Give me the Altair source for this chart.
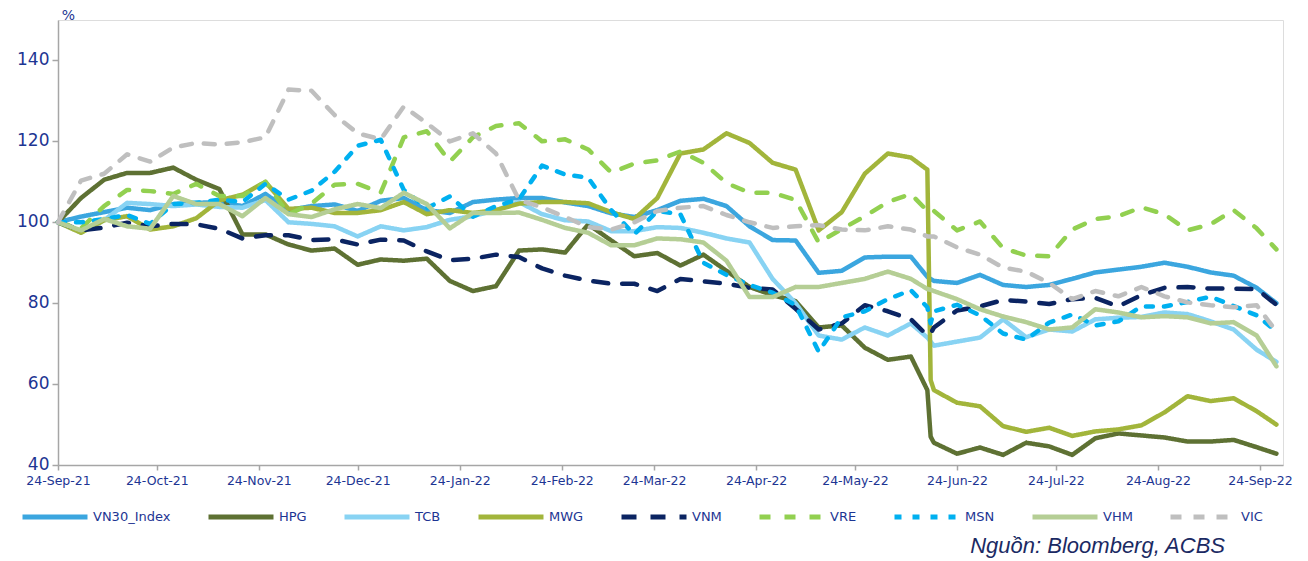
import altair as alt
import pandas as pd

dates = [
    "2021-09-24", "2021-10-01", "2021-10-08", "2021-10-15", "2021-10-22", "2021-10-29",
    "2021-11-05", "2021-11-12", "2021-11-19", "2021-11-26", "2021-12-03", "2021-12-10",
    "2021-12-17", "2021-12-24", "2021-12-31", "2022-01-07", "2022-01-14", "2022-01-21",
    "2022-01-28", "2022-02-04", "2022-02-11", "2022-02-18", "2022-02-25", "2022-03-04",
    "2022-03-11", "2022-03-18", "2022-03-25", "2022-04-01", "2022-04-08", "2022-04-15",
    "2022-04-22", "2022-04-29", "2022-05-06", "2022-05-13", "2022-05-20", "2022-05-27",
    "2022-06-03", "2022-06-10", "2022-06-15", "2022-06-16", "2022-06-17", "2022-06-24",
    "2022-07-01", "2022-07-08", "2022-07-15", "2022-07-22", "2022-07-29", "2022-08-05",
    "2022-08-12", "2022-08-19", "2022-08-26", "2022-09-02", "2022-09-09", "2022-09-16",
    "2022-09-23", "2022-09-29",
]

VN30_Index = [100, 101.4, 102.5, 103.6, 103, 104.5, 104.8, 105, 104, 107, 103, 104, 104.4, 102.8,
              105.3, 106, 103, 102.3, 105, 105.6, 106, 106, 104.9, 104, 102.2, 101.3, 103, 105.3,
              105.8, 104, 99, 95.6, 95.5, 87.5, 88, 91.3, 91.5, 91.5,
              86.5, 86, 85.5, 85, 87, 84.5, 84, 84.5, 86, 87.6, 88.3, 89, 90, 89, 87.6, 86.8, 83.8, 80]
HPG = [100, 106, 110.5, 112.2, 112.2, 113.5, 110.5, 108.2, 97, 97, 94.5, 93, 93.5, 89.5, 90.8, 90.5,
       91, 85.5, 83, 84.2, 93, 93.3, 92.5, 99.5, 95.5, 91.6, 92.4, 89.3, 92, 88, 84, 82, 80.5, 74,
       74.5, 69, 66, 66.8,
       58.5, 47, 45.5, 42.8, 44.3, 42.5, 45.5, 44.6, 42.5, 46.6, 47.8, 47.3, 46.8, 45.8, 45.8, 46.2, 44.4, 42.8]
TCB = [100, 97.5, 100.5, 104.8, 104.5, 104, 104.4, 103.8, 103.6, 105.5, 100, 99.6, 99, 96.5, 99, 98,
       98.8, 100.6, 101.5, 103, 105, 102, 100.5, 100.2, 97.8, 97.8, 98.8, 98.6, 97.4, 96, 95, 86, 80,
       72, 71, 74, 72, 75,
       71.5, 70.5, 69.5, 70.5, 71.5, 76, 71.6, 73.5, 73, 76, 76.4, 76.6, 77.7, 77.3, 75.5, 73.5, 68.5, 65.5]
MWG = [100, 97.4, 100.5, 101.5, 98.2, 99, 101, 105.4, 106.8, 110, 103.3, 103.6, 102.3, 102.3, 103,
       105, 102, 103, 102.3, 103, 104.6, 105, 105, 104.7, 102.5, 100.8, 106, 117, 118, 122, 119.6,
       114.7, 113, 98, 102.5, 112, 117, 116,
       113, 61, 58.5, 55.4, 54.5, 49.6, 48.2, 49.2, 47.2, 48.3, 48.8, 49.8, 53, 57, 55.8, 56.5, 53.3, 50]
VNM = [100, 98, 98.7, 99.9, 99, 99.6, 99.5, 98.4, 96, 96.8, 96.8, 95.6, 95.8, 94.5, 95.7, 95.5, 92.8,
       90.6, 91, 92, 91.4, 88.6, 86.8, 85.6, 84.8, 84.8, 83, 86, 85.4, 84.8, 83.8, 83.4, 78.6, 73.5,
       75, 79.5, 78, 76,
       72, 72.5, 74, 78.2, 79.2, 80.8, 80.4, 79.8, 81, 81.3, 79.2, 82, 83.8, 84, 83.6, 83.6, 83.5, 79.6]
VRE = [100, 98.5, 104, 108, 107.7, 107, 109.5, 106.5, 106.5, 110, 102, 104.6, 109.3, 109.5, 107.3,
       121, 122.5, 115, 121, 123.8, 124.5, 120, 120.5, 118, 112.3, 114.5, 115.3, 117.5, 114.7, 109.7,
       107.3, 107.3, 105.5, 95, 98.3, 101.5, 105, 107,
       102.8, 102.3, 102.8, 98, 100.2, 93.6, 91.8, 91.6, 98.2, 100.8, 101.5, 103.7, 102, 98, 99.5, 103, 98.5, 93.3]
MSN = [100, 100, 100.8, 101.8, 99.6, 104.5, 104.8, 105.6, 105, 109.5, 105.6, 107.8, 112.5, 118.9,
       120.4, 108, 103.5, 106.4, 101.4, 104, 105.7, 114, 111.8, 111, 103, 97, 102.8, 102, 90, 87,
       84.5, 82.6, 79.5, 68, 76.5, 78, 81, 83.2,
       79, 75, 78, 79.6, 77, 72.5, 71, 75.2, 77.2, 74.5, 75.5, 79.2, 79.2, 80.3, 81.6, 79.3, 77, 73]
VHM = [100, 98, 100.8, 99, 98.4, 106.5, 104.5, 104.5, 101.5, 106, 102, 101.3, 103.2, 104.5, 103.5,
       107.3, 104.5, 98.5, 102.3, 102.3, 102.4, 100.6, 98.6, 97.4, 94.3, 94.3, 96, 95.8, 95, 90.5,
       81.5, 81.5, 84, 84, 85, 86, 87.8, 86,
       83.5, 83.3, 83, 81, 78.5, 76.7, 75.3, 73.5, 74, 78.5, 77.7, 76.5, 76.8, 76.5, 75, 75.3, 72, 64.4]
VIC = [100, 110.3, 112, 116.8, 115, 118.5, 119.6, 119.2, 119.8, 121, 132.8, 132.5, 126.5, 122, 120.5,
       128.6, 124.5, 120, 122, 117, 105.5, 103.7, 101.3, 98.8, 98.2, 100, 102.8, 103.6, 104, 101.8,
       100, 98.6, 99, 99.3, 98.2, 98, 99, 98.2,
       96.5, 96.5, 96.5, 93.8, 92, 88.8, 87.8, 85, 81, 83, 81.7, 84, 81.7, 80.2, 79.5, 79, 79.5, 73]

series_names = ["VN30_Index", "HPG", "TCB", "MWG", "VNM", "VRE", "MSN", "VHM", "VIC"]
series_values = [VN30_Index, HPG, TCB, MWG, VNM, VRE, MSN, VHM, VIC]
series_colors = ["#3BA6DF", "#5E7133", "#88D3F3", "#A2B53B", "#0B2462", "#92D050", "#00B0F0",
                 "#B5CE95", "#BFBFBF"]
series_dashes = [[1, 0], [1, 0], [1, 0], [1, 0], [15, 14], [11, 14], [7, 11], [1, 0], [11, 12]]

tick_dates = [
    (2021, 9), (2021, 10), (2021, 11), (2021, 12), (2022, 1), (2022, 2), (2022, 3),
    (2022, 4), (2022, 5), (2022, 6), (2022, 7), (2022, 8), (2022, 9),
]
y_ticks = [40, 60, 80, 100, 120, 140]
source_text = "Nguồn: Bloomberg, ACBS"

rows = []
for name, vals in zip(series_names, series_values):
    for d, v in zip(dates, vals):
        rows.append({"date": d, "value": v, "series": name})
df = pd.DataFrame(rows)

TXT = "#1D3593"
FONT = "'DejaVu Sans', sans-serif"

legend = alt.Legend(
    title=None, orient="none", legendX=-38, legendY=462, direction="horizontal",
    symbolType="stroke", symbolSize=4225, symbolStrokeWidth=5, labelFontSize=13,
    labelColor=TXT, labelFont=FONT, columnPadding=27, labelOffset=3, labelLimit=0,
)

lines = alt.Chart(df).mark_line(strokeWidth=4.5, strokeCap="round", strokeJoin="round").encode(
    x=alt.X(
        "date:T",
        scale=alt.Scale(
            type="utc",
            domain=[alt.DateTime(year=2021, month=9, date=24, utc=True),
                    alt.DateTime(year=2022, month=10, date=1, utc=True)],
        ),
        axis=alt.Axis(
            values=[alt.DateTime(year=y, month=m, date=24, utc=True) for y, m in tick_dates],
            labelExpr="utcFormat(datum.value, '%d-%b-%y')",
            title=None, grid=False, domainColor="#A6A6A6", domainWidth=1.5,
            tickColor="#A6A6A6", tickWidth=1.5, tickSize=5, labelColor=TXT, labelFont=FONT,
            labelFontSize=12.5, labelPadding=4, labelFlush=False, labelOverlap=False,
        ),
    ),
    y=alt.Y(
        "value:Q",
        scale=alt.Scale(domain=[40, 150], nice=False, zero=False),
        axis=alt.Axis(
            values=y_ticks, title="%", titleAngle=0, titleX=10, titleY=-5, titleAlign="center",
            titleBaseline="middle", titleColor=TXT, titleFont=FONT, titleFontSize=14,
            titleFontWeight="normal", grid=False, domainColor="#A6A6A6", domainWidth=1.5,
            tickColor="#A6A6A6", tickWidth=1.5, tickSize=6, labelColor=TXT, labelFont=FONT,
            labelFontSize=17, labelPadding=3, labelOffset=-1,
        ),
    ),
    color=alt.Color("series:N", scale=alt.Scale(domain=series_names, range=series_colors),
                    legend=legend),
    strokeDash=alt.StrokeDash("series:N", scale=alt.Scale(domain=series_names, range=series_dashes),
                              legend=legend),
)

source = alt.Chart(pd.DataFrame({"t": [source_text]})).mark_text(
    align="right", baseline="middle", font="'Liberation Sans', Arial, sans-serif",
    fontSize=22, fontStyle="italic", color="#1B2A63",
).encode(x=alt.value(1167), y=alt.value(526), text="t:N")

chart = alt.layer(lines, source).properties(
    width=1225, height=445,
    autosize=alt.AutoSizeParams(type="none"),
    padding={"left": 50, "top": 12, "right": 17, "bottom": 95},
).configure_view(stroke=None).configure(background="white")

chart.save("out.html", embed_options={"renderer": "svg", "actions": False})
